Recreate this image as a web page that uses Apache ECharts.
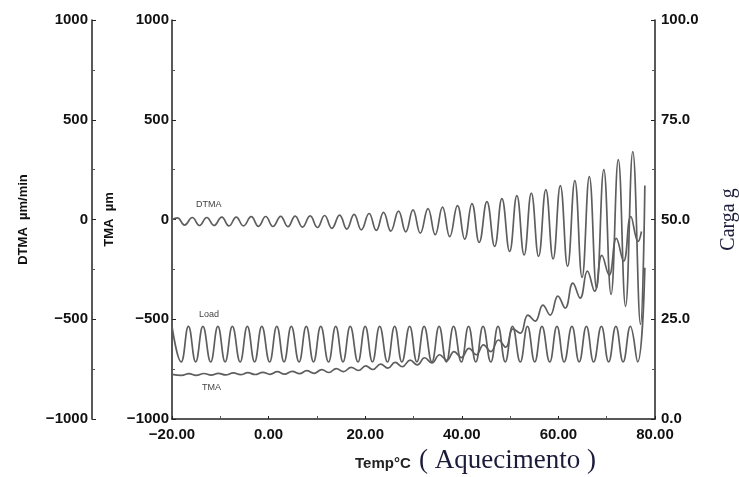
<!DOCTYPE html>
<html>
<head>
<meta charset="utf-8">
<script src="https://cdn.jsdelivr.net/npm/echarts@6/dist/echarts.min.js"></script>
<style>
html,body{margin:0;padding:0;background:#fff;}
#c{width:739px;height:477px;}
</style>
</head>
<body>
<div id="c"></div>
<script>
// ---- axis ticks ----
const tempTicks = [-20, 0, 20, 40, 60, 80];
const umTicks = [-1000, -500, 0, 500, 1000];
const cargaTicks = [0, 25, 50, 75, 100];

// ---- DTMA (µm/min): extrema (start, peak, trough, peak, ...) ----
const dtmaTemp = [
  -20.0,
  -18.9, -17.4, -15.8, -14.3, -12.8, -11.3, -9.7, -8.2, -6.7, -5.2,
  -3.6, -2.1, -0.6, 0.9, 2.5, 4.0, 5.5, 7.0, 8.6, 10.1,
  11.6, 13.1, 14.7, 16.2, 17.7, 19.2, 20.8, 22.3, 23.8, 25.3,
  26.9, 28.4, 29.9, 31.4, 33.0, 34.5, 36.0, 37.5, 39.1, 40.6,
  42.1, 43.6, 45.2, 46.8, 48.3, 49.9, 51.4, 52.9, 54.4, 55.9,
  57.4, 58.9, 60.4, 61.9, 63.4, 64.9, 66.4, 67.9, 69.4, 70.9,
  72.4, 73.9, 75.4, 77.0,
  77.9
];
const dtmaValue = [
  0,
  8, -28, 10, -30, 10, -30, 12, -32, 12, -32,
  14, -34, 15, -35, 16, -36, 17, -38, 18, -40,
  20, -44, 22, -48, 26, -52, 30, -55, 36, -58,
  42, -62, 48, -68, 55, -76, 62, -86, 70, -98,
  80, -115, 90, -135, 105, -160, 120, -178, 132, -185,
  150, -198, 170, -235, 195, -290, 215, -345, 250, -375,
  300, -435, 340, -525,
  170
];

// ---- TMA (µm) ----
const tmaTemp = [
  -20.0, -18.0, -16.5, -15.0, -13.4, -11.9, -10.4, -8.9, -7.3, -5.8,
  -4.3, -2.8, -1.2, 0.3, 1.8, 3.3, 4.9, 6.4, 7.9, 9.4,
  11.0, 12.5, 14.0, 15.5, 17.1, 18.6, 20.1, 21.6, 23.2, 24.7,
  26.2, 27.7, 29.3, 30.8, 32.3, 33.8, 35.4, 36.9, 38.4, 39.9,
  41.5, 43.0, 44.5, 46.0, 47.6, 49.1, 50.6, 52.1, 53.7, 55.2,
  56.8, 58.3, 59.9, 61.4, 63.0, 64.5, 66.0, 67.5, 69.0, 70.5,
  72.0, 73.5, 75.0, 76.5, 77.2
];
const tmaValue = [
  -776, -781, -773, -781, -772, -780, -771, -779, -769, -778,
  -768, -777, -766, -776, -763, -775, -761, -773, -758, -771,
  -753, -767, -747, -763, -741, -757, -734, -752, -725, -745,
  -716, -738, -705, -729, -693, -719, -678, -706, -662, -692,
  -646, -678, -628, -662, -604, -640, -548, -570, -479, -509,
  -429, -479, -384, -444, -319, -394, -259, -359, -180, -279,
  -95, -209, 15, -110, -60
];

// ---- Load (Carga g) ----
const loadTemp = [
  -20.0,
  -18.1, -16.6, -15.1, -13.6, -12.0, -10.5, -9.0, -7.5, -5.9, -4.4,
  -2.9, -1.4, 0.2, 1.7, 3.2, 4.7, 6.3, 7.8, 9.3, 10.8,
  12.4, 13.9, 15.4, 16.9, 18.5, 20.0, 21.5, 23.0, 24.6, 26.1,
  27.6, 29.2, 30.7, 32.2, 33.8, 35.3, 36.8, 38.3, 39.9, 41.4,
  42.9, 44.4, 46.0, 47.5, 49.0, 50.5, 52.1, 53.6, 55.1, 56.6,
  58.2, 59.7, 61.2, 62.8, 64.3, 65.8, 67.3, 68.9, 70.4, 71.9,
  73.4, 74.9, 76.4,
  77.9
];
const loadValue = [
  23.2,
  14.3, 23.2, 14.3, 23.2, 14.3, 23.2, 14.3, 23.2, 14.3, 23.2,
  14.3, 23.2, 14.3, 23.2, 14.3, 23.2, 14.3, 23.2, 14.3, 23.2,
  14.3, 23.2, 14.3, 23.2, 14.3, 23.2, 14.3, 23.2, 14.3, 23.2,
  14.3, 23.2, 14.3, 23.2, 14.3, 23.2, 14.3, 23.2, 14.3, 23.2,
  14.3, 23.2, 14.3, 23.2, 14.3, 23.2, 14.3, 23.2, 14.3, 23.2,
  14.3, 23.2, 14.3, 23.2, 14.3, 23.2, 14.3, 23.2, 14.3, 23.2,
  14.3, 23.2, 14.3,
  37.9
];

function pairs(xs, ys) { return xs.map((x, i) => [x, ys[i]]); }
const minus = s => String(s).replace('-', '\u2212');

const lineColor = '#5e5e5e';
const axisColor = '#222';
const labelFont = {color: '#111', fontFamily: 'Liberation Sans, Arial, sans-serif', fontWeight: 'bold', fontSize: 15};

function yAx(extra) {
  return Object.assign({
    type: 'value',
    axisLine: {show: true, onZero: false, lineStyle: {color: axisColor, width: 1.5}},
    axisTick: {show: true, inside: true, length: 4, lineStyle: {color: axisColor}},
    minorTick: {show: true, splitNumber: 2, length: 3, lineStyle: {color: '#555'}},
    splitLine: {show: false},
    nameLocation: 'middle',
    nameRotate: 90
  }, extra);
}

const chart = echarts.init(document.getElementById('c'), null, {renderer: 'canvas'});
const option = {
  animation: false,
  backgroundColor: '#ffffff',
  grid: {left: 172, right: 84, top: 20, bottom: 58, containLabel: false, outerBoundsMode: 'none'},
  xAxis: {
    type: 'value',
    min: tempTicks[0], max: tempTicks[tempTicks.length - 1], interval: tempTicks[1] - tempTicks[0],
    axisLine: {show: true, onZero: false, lineStyle: {color: axisColor, width: 1.5}},
    axisTick: {show: true, inside: true, length: 3, lineStyle: {color: axisColor}},
    minorTick: {show: true, splitNumber: 2, length: 3, lineStyle: {color: '#555'}},
    splitLine: {show: false},
    axisLabel: Object.assign({margin: 8, formatter: v => minus(v.toFixed(2))}, labelFont)
  },
  yAxis: [
    yAx({
      position: 'left', offset: 80,
      min: umTicks[0], max: umTicks[umTicks.length - 1], interval: umTicks[1] - umTicks[0],
      axisLabel: Object.assign({margin: 4, formatter: v => minus(v)}, labelFont),
      name: 'DTMA  \u00b5m/min', nameGap: 62,
      nameTextStyle: {color: '#111', fontFamily: 'Liberation Sans, Arial, sans-serif', fontWeight: 'bold', fontSize: 13}
    }),
    yAx({
      position: 'left', offset: 0,
      min: umTicks[0], max: umTicks[umTicks.length - 1], interval: umTicks[1] - umTicks[0],
      axisLabel: Object.assign({margin: 3, formatter: v => minus(v)}, labelFont),
      name: 'TMA  \u00b5m', nameGap: 55,
      nameTextStyle: {color: '#111', fontFamily: 'Liberation Sans, Arial, sans-serif', fontWeight: 'bold', fontSize: 13}
    }),
    yAx({
      position: 'right', offset: 0,
      min: cargaTicks[0], max: cargaTicks[cargaTicks.length - 1], interval: cargaTicks[1] - cargaTicks[0],
      axisLabel: Object.assign({margin: 6, formatter: v => v.toFixed(1)}, labelFont),
      name: 'Carga g', nameGap: 64,
      nameTextStyle: {color: '#1b1b3a', fontFamily: 'Liberation Serif, Times New Roman, serif', fontSize: 20}
    })
  ],
  series: [
    {name: 'DTMA', type: 'line', yAxisIndex: 0, data: pairs(dtmaTemp, dtmaValue), smooth: 0.45,
     showSymbol: false, lineStyle: {color: lineColor, width: 1.7}, z: 3},
    {name: 'TMA', type: 'line', yAxisIndex: 1, data: pairs(tmaTemp, tmaValue), smooth: 0.45,
     showSymbol: false, lineStyle: {color: lineColor, width: 1.7}, z: 2},
    {name: 'Load', type: 'line', yAxisIndex: 2, data: pairs(loadTemp, loadValue), smooth: 0.45,
     showSymbol: false, lineStyle: {color: lineColor, width: 1.7}, z: 2}
  ],
  graphic: [
    {type: 'text', left: 196, top: 200, style: {text: 'DTMA', fill: '#444', font: '9px Liberation Sans, Arial, sans-serif'}},
    {type: 'text', left: 199, top: 310, style: {text: 'Load', fill: '#444', font: '9px Liberation Sans, Arial, sans-serif'}},
    {type: 'text', left: 202, top: 383, style: {text: 'TMA', fill: '#444', font: '9px Liberation Sans, Arial, sans-serif'}},
    {type: 'text', left: 355, top: 456, style: {text: 'Temp\u00b0C', fill: '#222', font: 'bold 15px Liberation Sans, Arial, sans-serif'}},
    {type: 'text', left: 419, top: 447, style: {text: '( Aquecimento )', fill: '#1b1b3a', font: '27px Liberation Serif, Times New Roman, serif'}}
  ]
};
chart.setOption(option);
</script>
</body>
</html>
